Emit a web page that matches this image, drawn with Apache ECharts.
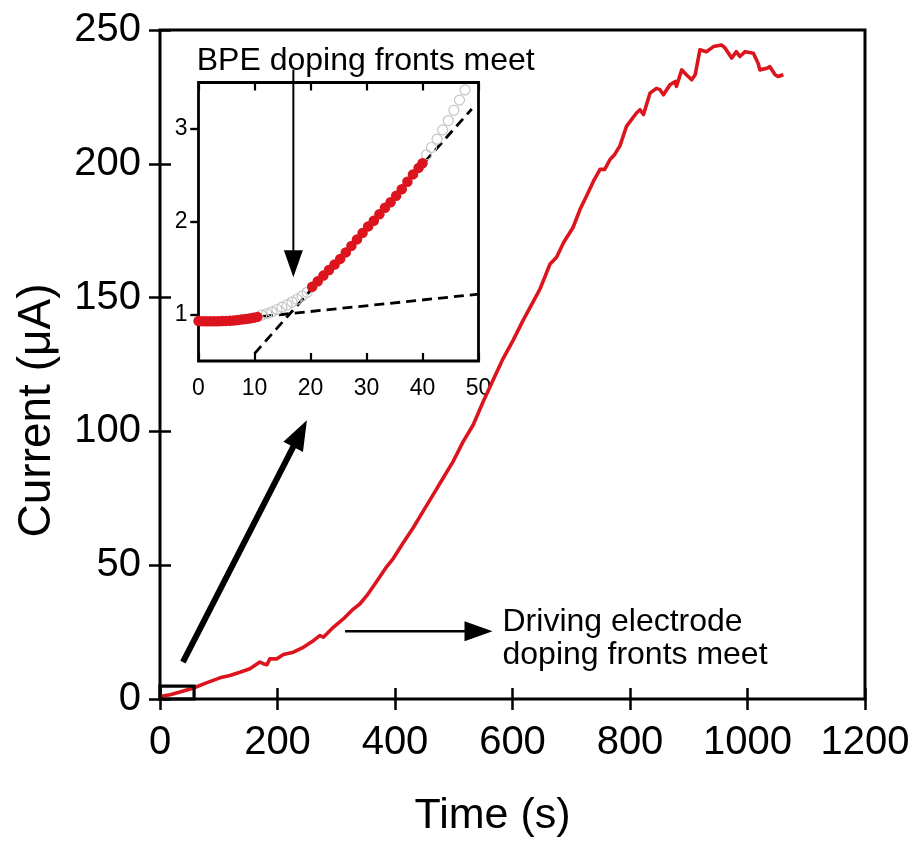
<!DOCTYPE html>
<html><head><meta charset="utf-8">
<script src="https://cdn.jsdelivr.net/npm/echarts@6/dist/echarts.min.js"></script>
<style>html,body{margin:0;padding:0;background:#fff}#c{width:917px;height:843px}</style>
</head><body><div id="c"></div>
<script>
// ---- Main curve: time (s) vs current (uA)
const timeS = [0,17,34,57,79,102,119,136,153,170,176,182,187,199,210,227,244,261,272,278,295,312,329,340,352,369,386,397,414,431,448,465,482,499,516,533,550,567,584,601,618,638,647,664,675,687,703,715,726,738,749,757,766,774,783,794,811,817,823,834,845,851,857,868,877,879,888,896,905,911,919,930,942,956,962,973,981,987,996,1010,1018,1021,1033,1038,1047,1052,1061];
const currentUA = [0.9,1.6,2.6,4.1,6.0,7.9,8.8,10.0,11.3,13.8,13.2,12.8,15.0,15.0,16.6,17.5,19.3,21.8,23.7,23.1,26.8,29.9,33.6,35.5,38.6,44.0,49.5,52.5,58.4,64.0,70.2,76.4,82.6,88.8,96.2,102.4,111.1,119.2,127.2,134.0,141.5,149.6,153.3,162.6,165.1,170.6,176.2,183.0,188.0,193.6,197.9,197.9,201.6,203.5,206.8,214.0,219.0,220.2,218.4,226.4,228.2,227.7,225.8,229.5,230.8,228.9,235.1,233.3,231.4,233.3,242.6,241.9,243.8,244.4,243.2,239.5,241.9,240.1,241.9,241.3,237.6,235.1,235.7,236.3,233.3,232.6,233.3];

// ---- Inset data (first 50 s)
const insetRedT1 = [0,0.7,1.4,2.1,2.8,3.5,4.2,4.9,5.6,6.3,7.0,7.7,8.4,9.1,9.8,10.5];
const insetRedI1 = [0.93,0.928,0.927,0.927,0.928,0.929,0.93,0.932,0.934,0.937,0.941,0.946,0.952,0.958,0.966,0.975];
const insetGrayT1 = [11.3,12.2,13.1,14.0,14.9,15.8,16.7,17.6,18.5,19.4];
const insetGrayI1 = [0.995,1.01,1.03,1.055,1.08,1.105,1.135,1.165,1.2,1.24];
const insetRedT2 = [20.3,21.3,22.3,23.3,24.3,25.3,26.3,27.3,28.3,29.3,30.3,31.3,32.3,33.3,34.3,35.3,36.3,37.3,38.3,39.3,40.0];
const insetRedI2 = [1.30,1.36,1.42,1.48,1.54,1.60,1.67,1.74,1.81,1.88,1.95,2.01,2.08,2.15,2.21,2.28,2.35,2.43,2.51,2.58,2.63];
const insetGrayT2 = [40.7,41.6,42.6,43.6,44.6,45.6,46.6,47.6];
const insetGrayI2 = [2.72,2.80,2.89,2.99,3.09,3.20,3.31,3.42];
const fitLowT = [11.5,50], fitLowI = [0.98,1.22];
const fitHighT = [10,48.8], fitHighI = [0.58,3.215];

// ---- Tick labels
const mainXTicks = [0,200,400,600,800,1000,1200];
const mainYTicks = [0,50,100,150,200,250];
const insetXTicks = [0,10,20,30,40,50];
const insetYTicks = [1,2,3];
const insetYRange = [0.5,3.5];

// ---- Annotations (data units of the main axes)
const zoomBox = [0,58,0,4.8];            // t0,t1,I0,I1
const bigArrow = [[39,13.8],[250,104.2]];
const drivingArrow = [[315,25.3],[566,25.3]];
const bpeArrow = [[227,235.1],[227,157.6]];
const bpeTextAt = [62.5,238.5];
const drivingTextAt = [583,28.7];
const bpeLabel = 'BPE doping fronts meet';
const drivingLabel = ['Driving electrode','doping fronts meet'];

const FONT = '"Liberation Sans", Arial, Helvetica, sans-serif';
const pairs = (a,b)=>a.map((v,i)=>[v,b[i]]);
const plain = v => String(v);

const chart = echarts.init(document.getElementById('c'), null, {renderer:'canvas'});
const tickStyle = {color:'#000', width:2.5};
const red = '#dc141e';

const option = {
  animation:false,
  backgroundColor:'#fff',
  textStyle:{fontFamily:FONT},
  grid:[
    {left:160, right:52, top:30, bottom:141, show:true, borderColor:'#000', borderWidth:3, containLabel:false},
    {left:198.5, right:438.5, top:82.5, bottom:482, show:true, borderColor:'#000', borderWidth:2.8, backgroundColor:'#fff', containLabel:false}
  ],
  xAxis:[
    {gridIndex:0, type:'value', position:'bottom', min:mainXTicks[0], max:mainXTicks[mainXTicks.length-1], interval:mainXTicks[1]-mainXTicks[0],
     axisLine:{show:false}, splitLine:{show:false},
     axisTick:{inside:true, length:11, lineStyle:tickStyle},
     axisLabel:{fontSize:40, color:'#000', margin:24, fontFamily:FONT, formatter:plain},
     name:'Time (s)', nameLocation:'middle', nameGap:96, nameTextStyle:{fontSize:43, color:'#000', fontFamily:FONT, padding:[0,40,0,0]}},
    {gridIndex:0, type:'value', position:'top', min:mainXTicks[0], max:mainXTicks[mainXTicks.length-1], interval:mainXTicks[1]-mainXTicks[0],
     axisLine:{show:false}, splitLine:{show:false}, axisLabel:{show:false},
     axisTick:{inside:true, length:11, lineStyle:tickStyle}},
    {gridIndex:1, type:'value', position:'bottom', min:insetXTicks[0], max:insetXTicks[insetXTicks.length-1], interval:insetXTicks[1]-insetXTicks[0],
     axisLine:{show:false}, splitLine:{show:false},
     axisTick:{inside:true, length:8, lineStyle:{color:'#000', width:2.2}},
     axisLabel:{fontSize:23, color:'#000', margin:16, fontFamily:FONT, formatter:plain}},
    {gridIndex:1, type:'value', position:'top', min:insetXTicks[0], max:insetXTicks[insetXTicks.length-1], interval:insetXTicks[1]-insetXTicks[0],
     axisLine:{show:false}, splitLine:{show:false}, axisLabel:{show:false},
     axisTick:{inside:true, length:8, lineStyle:{color:'#000', width:2.2}}}
  ],
  yAxis:[
    {gridIndex:0, type:'value', position:'left', min:mainYTicks[0], max:mainYTicks[mainYTicks.length-1], interval:mainYTicks[1]-mainYTicks[0],
     axisLine:{show:false}, splitLine:{show:false},
     axisTick:{inside:true, length:11, lineStyle:tickStyle},
     axisLabel:{fontSize:40, color:'#000', margin:19, fontFamily:FONT, padding:[0,0,8,0], formatter:plain},
     name:'Current (μA)', nameLocation:'middle', nameGap:100, nameTextStyle:{fontSize:46, color:'#000', fontFamily:FONT, padding:[0,92,0,0]}},
    {gridIndex:0, type:'value', position:'right', min:mainYTicks[0], max:mainYTicks[mainYTicks.length-1], interval:mainYTicks[1]-mainYTicks[0],
     axisLine:{show:false}, splitLine:{show:false}, axisLabel:{show:false},
     axisTick:{inside:true, length:11, lineStyle:tickStyle}},
    {gridIndex:1, type:'value', position:'left', min:insetYRange[0], max:insetYRange[1],
     axisLine:{show:false}, splitLine:{show:false},
     axisTick:{inside:false, length:8, customValues:insetYTicks, lineStyle:{color:'#000', width:2.2}},
     axisLabel:{fontSize:23, color:'#000', margin:11, customValues:insetYTicks, fontFamily:FONT, formatter:plain}},
    {gridIndex:1, type:'value', position:'right', min:insetYRange[0], max:insetYRange[1],
     axisLine:{show:false}, splitLine:{show:false}, axisLabel:{show:false},
     axisTick:{inside:true, length:8, customValues:insetYTicks, lineStyle:{color:'#000', width:2.2}}}
  ],
  series:[
    {type:'line', xAxisIndex:0, yAxisIndex:0, data:pairs(timeS,currentUA), showSymbol:false, symbol:'none',
     lineStyle:{color:red, width:3.6, join:'round'}, z:3},
    {type:'line', xAxisIndex:2, yAxisIndex:2, data:pairs(fitLowT,fitLowI), symbol:'none',
     lineStyle:{color:'#000', width:2.8, type:[10,6]}, z:4},
    {type:'line', xAxisIndex:2, yAxisIndex:2, data:pairs(fitHighT,fitHighI), symbol:'none',
     lineStyle:{color:'#000', width:2.8, type:[10,6]}, z:4},
    {type:'scatter', xAxisIndex:2, yAxisIndex:2, data:pairs(insetGrayT1,insetGrayI1), symbol:'circle', symbolSize:10,
     itemStyle:{color:'rgba(255,255,255,0)', borderColor:'#c4c4c4', borderWidth:1.2, opacity:1}, z:5},
    {type:'scatter', xAxisIndex:2, yAxisIndex:2, data:pairs(insetGrayT2,insetGrayI2), symbol:'circle', symbolSize:10,
     itemStyle:{color:'rgba(255,255,255,0)', borderColor:'#c4c4c4', borderWidth:1.2, opacity:1}, z:5},
    {type:'scatter', xAxisIndex:2, yAxisIndex:2, data:pairs(insetRedT1,insetRedI1), symbol:'circle', symbolSize:10.5,
     itemStyle:{color:'#dc141e', opacity:1}, z:6},
    {type:'scatter', xAxisIndex:2, yAxisIndex:2, data:pairs(insetRedT2,insetRedI2), symbol:'circle', symbolSize:10.5,
     itemStyle:{color:'#dc141e', opacity:1}, z:6}
  ]
};
chart.setOption(option);

function toPx(p){ return chart.convertToPixel({seriesIndex:0}, p); }
function arrow(p0, p1, lw, hl, hw){
  const a = toPx(p0), b = toPx(p1);
  const dx=b[0]-a[0], dy=b[1]-a[1], L=Math.hypot(dx,dy), ux=dx/L, uy=dy/L;
  const bx=b[0]-ux*hl, by=b[1]-uy*hl, nx=-uy, ny=ux;
  return [
    {type:'line', z:100, shape:{x1:a[0], y1:a[1], x2:bx+ux*2, y2:by+uy*2}, style:{stroke:'#000', lineWidth:lw}},
    {type:'polygon', z:100, shape:{points:[[b[0],b[1]],[bx+nx*hw/2,by+ny*hw/2],[bx-nx*hw/2,by-ny*hw/2]]}, style:{fill:'#000'}}
  ];
}
const b0 = toPx([zoomBox[0],zoomBox[3]]), b1 = toPx([zoomBox[1],zoomBox[2]]);
const tb = toPx(bpeTextAt), td = toPx(drivingTextAt);
const graphic = [
  {type:'rect', z:100, shape:{x:b0[0], y:b0[1], width:b1[0]-b0[0], height:b1[1]-b0[1]}, style:{fill:'none', stroke:'#000', lineWidth:3.2}},
  ...arrow(bigArrow[0], bigArrow[1], 6, 30, 22),
  ...arrow(drivingArrow[0], drivingArrow[1], 2.5, 28, 20),
  ...arrow(bpeArrow[0], bpeArrow[1], 2, 27, 19),
  {type:'text', z:100, x:tb[0], y:tb[1], style:{text:bpeLabel, fontSize:32, fontFamily:FONT, fill:'#000', align:'left', verticalAlign:'middle'}},
  {type:'text', z:100, x:td[0], y:td[1], style:{text:drivingLabel[0], fontSize:32, fontFamily:FONT, fill:'#000', align:'left', verticalAlign:'middle'}},
  {type:'text', z:100, x:td[0], y:td[1]+33.3, style:{text:drivingLabel[1], fontSize:32, fontFamily:FONT, fill:'#000', align:'left', verticalAlign:'middle'}}
];
chart.setOption({graphic: graphic});
</script>
</body></html>
